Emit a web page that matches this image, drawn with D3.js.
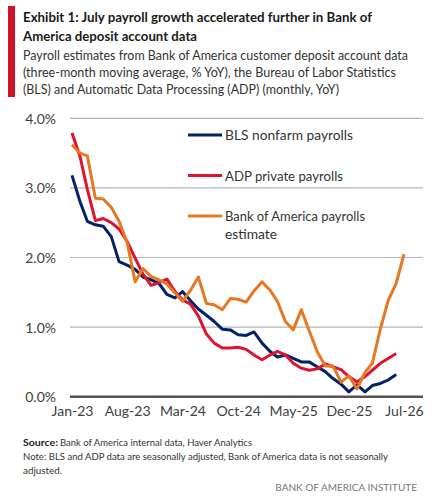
<!DOCTYPE html>
<html>
<head>
<meta charset="utf-8">
<script src="https://cdn.jsdelivr.net/npm/d3@7"></script>
<style>
  body { margin: 0; background: #fff; }
  svg text { font-family: Lato, "Open Sans", sans-serif; }
</style>
</head>
<body>
<div id="chart"></div>
<script>
// monthly values, Jan-23 onward (% YoY)
const startMonth = "Jan-23";
const blsValues = [3.18, 2.80, 2.52, 2.47, 2.45, 2.30, 1.94, 1.89, 1.83, 1.72,
  1.68, 1.63, 1.47, 1.42, 1.51, 1.38, 1.26, 1.17, 1.08, 0.97,
  0.96, 0.89, 0.88, 0.93, 0.77, 0.65, 0.57, 0.60, 0.55, 0.50,
  0.50, 0.43, 0.36, 0.26, 0.18, 0.07, 0.17, 0.07, 0.16, 0.19,
  0.24, 0.32];
const adpValues = [3.79, 3.45, 2.98, 2.53, 2.56, 2.50, 2.41, 2.23, 1.99, 1.76,
  1.60, 1.64, 1.69, 1.51, 1.39, 1.33, 1.16, 0.90, 0.77, 0.70,
  0.70, 0.71, 0.68, 0.60, 0.53, 0.60, 0.65, 0.60, 0.48, 0.41,
  0.38, 0.40, 0.47, 0.43, 0.39, 0.29, 0.21, 0.29, 0.38, 0.48,
  0.55, 0.62];
const bofaValues = [3.62, 3.50, 3.46, 2.85, 2.84, 2.72, 2.52, 2.22, 1.65, 1.84,
  1.73, 1.68, 1.62, 1.49, 1.37, 1.53, 1.72, 1.34, 1.32, 1.25,
  1.41, 1.40, 1.36, 1.52, 1.65, 1.53, 1.37, 1.08, 0.96, 1.25,
  0.95, 0.65, 0.44, 0.44, 0.21, 0.30, 0.11, 0.35, 0.48, 0.97,
  1.38, 1.63, 2.05];
const xTickLabels = ["Jan-23", "Aug-23", "Mar-24", "Oct-24", "May-25", "Dec-25", "Jul-26"];
const yTickValues = [0, 1, 2, 3, 4];

const seriesNames = ["BLS nonfarm payrolls", "ADP private payrolls", "Bank of America payrolls estimate"];
const seriesColours = ["#012169", "#dc1431", "#e87722"];

const width = 437, height = 497;
const parseMonth = d3.timeParse("%b-%y");
const start = parseMonth(startMonth);

function toPoints(values) {
  return values.map(function(v, i) {
    return { date: d3.timeMonth.offset(start, i), value: v };
  });
}
const series = [blsValues, adpValues, bofaValues].map(toPoints);

const svg = d3.select("#chart")
  .append("svg")
  .attr("width", width)
  .attr("height", height);

// header
svg.append("rect")
  .attr("x", 8).attr("y", 6)
  .attr("width", 7).attr("height", 91)
  .attr("fill", "#d0112b");

const titleLines = [
  ["Exhibit 1: July payroll growth accelerated further in Bank of", 22, 349],
  ["America deposit account data", 40.5, 174]
];
titleLines.forEach(function(t) {
  svg.append("text")
    .attr("x", 23).attr("y", t[1])
    .attr("font-size", 14).attr("font-weight", "bold")
    .attr("fill", "#1a1a1a")
    .attr("textLength", t[2]).attr("lengthAdjust", "spacingAndGlyphs")
    .text(t[0]);
});

const subLines = [
  ["Payroll estimates from Bank of America customer deposit account data", 59.5, 385],
  ["(three-month moving average, % YoY), the Bureau of Labor Statistics", 76.5, 373],
  ["(BLS) and Automatic Data Processing (ADP) (monthly, YoY)", 93.5, 316]
];
subLines.forEach(function(t) {
  svg.append("text")
    .attr("x", 23).attr("y", t[1])
    .attr("font-size", 13)
    .attr("fill", "#333")
    .attr("textLength", t[2]).attr("lengthAdjust", "spacingAndGlyphs")
    .text(t[0]);
});

// scales
const plotLeft = 70, plotRight = 423;
const x = d3.scaleTime()
  .domain([start, parseMonth("Jul-26")])
  .range([72, 404]);
const y = d3.scaleLinear()
  .domain([0, 4])
  .range([396.7, 118.3]);

// gridlines
svg.append("g")
  .selectAll("line")
  .data(yTickValues.filter(function(d) { return d > 0; }))
  .enter()
  .append("line")
  .attr("x1", plotLeft).attr("x2", plotRight)
  .attr("y1", function(d) { return y(d); })
  .attr("y2", function(d) { return y(d); })
  .attr("stroke", "#b5b5b5")
  .attr("stroke-width", 1.2);

// y axis labels
const yAxis = svg.append("g")
  .attr("transform", "translate(" + 56 + ",0)")
  .call(d3.axisLeft(y).tickValues(yTickValues).tickSize(0).tickPadding(0)
    .tickFormat(function(d) { return d3.format(".1f")(d) + "%"; }));
yAxis.select(".domain").remove();
yAxis.selectAll("text")
  .attr("font-size", 14)
  .attr("fill", "#404040")
  .attr("dy", "0.35em")
  .style("font-family", "Lato, sans-serif");

// x axis labels
const xAxis = svg.append("g")
  .attr("transform", "translate(0," + 404 + ")")
  .call(d3.axisBottom(x).tickValues(xTickLabels.map(parseMonth)).tickSize(0).tickPadding(0)
    .tickFormat(d3.timeFormat("%b-%y")));
xAxis.select(".domain").remove();
xAxis.selectAll("text")
  .attr("font-size", 14)
  .attr("fill", "#404040")
  .attr("dy", "0.85em")
  .style("font-family", "Lato, sans-serif");

// lines
const line = d3.line()
  .x(function(d) { return x(d.date); })
  .y(function(d) { return y(d.value); });

svg.append("g")
  .selectAll("path")
  .data(series)
  .enter()
  .append("path")
  .attr("d", line)
  .attr("fill", "none")
  .attr("stroke", function(d, i) { return seriesColours[i]; })
  .attr("stroke-width", 3)
  .attr("stroke-linejoin", "round");

// zero baseline
svg.append("line")
  .attr("x1", plotLeft).attr("x2", plotRight)
  .attr("y1", y(0)).attr("y2", y(0))
  .attr("stroke", "#555")
  .attr("stroke-width", 2.5);

// legend
const legendRows = [
  { name: [seriesNames[0]], y: 135, w: [128] },
  { name: [seriesNames[1]], y: 175.5, w: [118] },
  { name: ["Bank of America payrolls", "estimate"], y: 216, w: [140, 52] }
];
legendRows.forEach(function(r, i) {
  svg.append("line")
    .attr("x1", 188).attr("x2", 222)
    .attr("y1", r.y).attr("y2", r.y)
    .attr("stroke", seriesColours[i])
    .attr("stroke-width", 3);
  r.name.forEach(function(s, j) {
    svg.append("text")
      .attr("x", 225).attr("y", r.y + 5 + j * 17.5)
      .attr("font-size", 14)
      .attr("fill", "#333")
      .attr("textLength", r.w[j]).attr("lengthAdjust", "spacingAndGlyphs")
      .text(s);
  });
});

// footer
svg.append("text")
  .attr("x", 23).attr("y", 446)
  .attr("font-size", 10).attr("font-weight", "bold").attr("fill", "#1a1a1a")
  .attr("textLength", 35).attr("lengthAdjust", "spacingAndGlyphs")
  .text("Source:");
svg.append("text")
  .attr("x", 60).attr("y", 446)
  .attr("font-size", 10).attr("fill", "#333")
  .attr("textLength", 192).attr("lengthAdjust", "spacingAndGlyphs")
  .text("Bank of America internal data, Haver Analytics");
svg.append("text")
  .attr("x", 23).attr("y", 460)
  .attr("font-size", 10).attr("fill", "#333")
  .attr("textLength", 365).attr("lengthAdjust", "spacingAndGlyphs")
  .text("Note: BLS and ADP data are seasonally adjusted, Bank of America data is not seasonally");
svg.append("text")
  .attr("x", 23).attr("y", 474)
  .attr("font-size", 10).attr("fill", "#333")
  .attr("textLength", 39).attr("lengthAdjust", "spacingAndGlyphs")
  .text("adjusted.");
svg.append("text")
  .attr("x", 417).attr("y", 491)
  .attr("font-size", 10).attr("fill", "#777")
  .attr("text-anchor", "end")
  .text("BANK OF AMERICA INSTITUTE");
</script>
</body>
</html>
